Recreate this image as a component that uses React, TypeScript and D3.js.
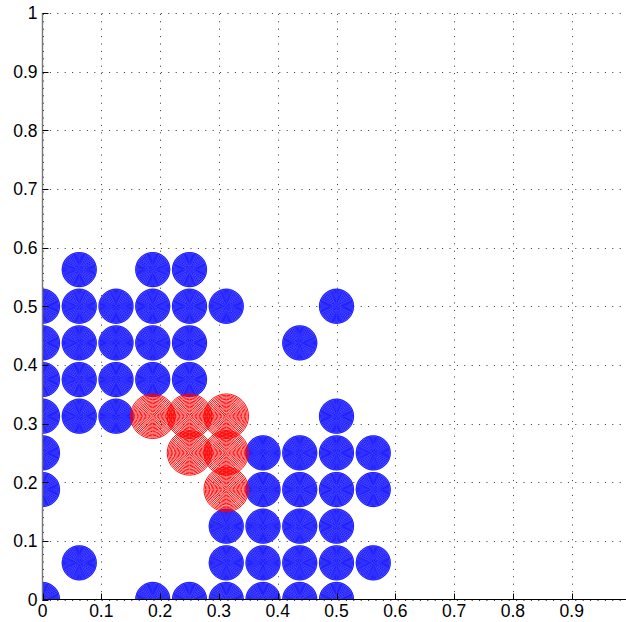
import React from 'react';
import * as d3 from 'd3';

// circle centres (grid of 1/16)
const blueCenters: [number, number][] = [
  [0.0625, 0.5625], [0.1875, 0.5625], [0.25, 0.5625],
  [0, 0.5], [0.0625, 0.5], [0.125, 0.5], [0.1875, 0.5], [0.25, 0.5], [0.3125, 0.5], [0.5, 0.5],
  [0, 0.4375], [0.0625, 0.4375], [0.125, 0.4375], [0.1875, 0.4375], [0.25, 0.4375], [0.4375, 0.4375],
  [0, 0.375], [0.0625, 0.375], [0.125, 0.375], [0.1875, 0.375], [0.25, 0.375],
  [0, 0.3125], [0.0625, 0.3125], [0.125, 0.3125], [0.5, 0.3125],
  [0, 0.25], [0.375, 0.25], [0.4375, 0.25], [0.5, 0.25], [0.5625, 0.25],
  [0, 0.1875], [0.375, 0.1875], [0.4375, 0.1875], [0.5, 0.1875], [0.5625, 0.1875],
  [0.3125, 0.125], [0.375, 0.125], [0.4375, 0.125], [0.5, 0.125],
  [0.0625, 0.0625], [0.3125, 0.0625], [0.375, 0.0625], [0.4375, 0.0625], [0.5, 0.0625], [0.5625, 0.0625],
  [0, 0], [0.1875, 0], [0.25, 0], [0.3125, 0], [0.375, 0], [0.4375, 0], [0.5, 0],
];
const redCenters: [number, number][] = [
  [0.1875, 0.3125], [0.25, 0.3125], [0.3125, 0.3125],
  [0.25, 0.25], [0.3125, 0.25],
  [0.3125, 0.1875],
];
const blueRadius = 0.03;
const redRadius = 0.04;

const xTickValues = [0, 0.1, 0.2, 0.3, 0.4, 0.5, 0.6, 0.7, 0.8, 0.9];
const xTickLabels = ['0', '0.1', '0.2', '0.3', '0.4', '0.5', '0.6', '0.7', '0.8', '0.9'];
const yTickValues = [0, 0.1, 0.2, 0.3, 0.4, 0.5, 0.6, 0.7, 0.8, 0.9, 1];
const yTickLabels = ['0', '0.1', '0.2', '0.3', '0.4', '0.5', '0.6', '0.7', '0.8', '0.9', '1'];

const W = 626;
const H = 622;

export default function App() {
  const x = d3.scaleLinear().domain([0, 1]).range([42.5, 630.5]);
  const y = d3.scaleLinear().domain([0, 1]).range([599.5, 13]);
  const px = (r: number) => x(r) - x(0);

  const rings = (cx: number, cy: number, R: number, step: number, color: string, w: number, key: string) =>
    d3.range(step / 2, R, step).map((r, i) => (
      <circle key={key + i} cx={cx} cy={cy} r={r} fill="none" stroke={color} strokeWidth={w} />
    ));

  const font = '"Liberation Sans", Arial, Helvetica, sans-serif';

  return (
    <svg width={W} height={H} style={{ position: 'absolute', left: 0, top: 0, background: '#fff' }}>
      <defs>
        <clipPath id="plot">
          <rect x={x(0)} y={y(1)} width={x(1) - x(0)} height={y(0) - y(1)} />
        </clipPath>
      </defs>
      <rect width={W} height={H} fill="#fff" />

      {/* grid */}
      <g stroke="#333" strokeWidth={1} strokeDasharray="1 6.4" fill="none">
        {xTickValues.map((v) => (
          <line key={'gx' + v} x1={Math.round(x(v)) + 0.5} x2={Math.round(x(v)) + 0.5} y1={y(0)} y2={y(1)} />
        ))}
        {yTickValues.map((v) => (
          <line key={'gy' + v} x1={x(0)} x2={W} y1={Math.round(y(v)) + 0.5} y2={Math.round(y(v)) + 0.5} />
        ))}
      </g>

      <g clipPath="url(#plot)">
        {blueCenters.map(([cx, cy], i) => (
          <g key={'b' + i}>
            <circle cx={x(cx)} cy={y(cy)} r={px(blueRadius)} fill="#7070ff" />
            {rings(x(cx), y(cy), px(blueRadius), 1.1, '#0000ff', 0.75, 'br' + i)}
          </g>
        ))}
        {redCenters.map(([cx, cy], i) => (
          <g key={'r' + i}>
            {rings(x(cx), y(cy), px(redRadius), 1.35, '#ff0000', 0.95, 'rr' + i)}
          </g>
        ))}
      </g>

      {/* axes */}
      <line x1={x(0)} x2={W} y1={y(0)} y2={y(0)} stroke="#000" strokeWidth={1} />
      <line x1={x(0)} x2={x(0)} y1={y(0)} y2={y(1)} stroke="#777" strokeWidth={1.4} />
      <g stroke="#000" strokeWidth={1}>
        {xTickValues.map((v) => (
          <line key={'tx' + v} x1={Math.round(x(v)) + 0.5} x2={Math.round(x(v)) + 0.5} y1={y(0)} y2={y(0) - 6} />
        ))}
        {yTickValues.map((v) => (
          <line key={'ty' + v} x1={x(0)} x2={x(0) + 6} y1={Math.round(y(v)) + 0.5} y2={Math.round(y(v)) + 0.5} />
        ))}
      </g>

      <g fontFamily={font} fontSize={17.5} fill="#000">
        {xTickValues.map((v, i) => (
          <text key={'lx' + v} x={x(v)} y={617} textAnchor="middle">
            {xTickLabels[i]}
          </text>
        ))}
        {yTickValues.map((v, i) => (
          <text key={'ly' + v} x={37.5} y={y(v)} dy="0.36em" textAnchor="end">
            {yTickLabels[i]}
          </text>
        ))}
      </g>
    </svg>
  );
}
